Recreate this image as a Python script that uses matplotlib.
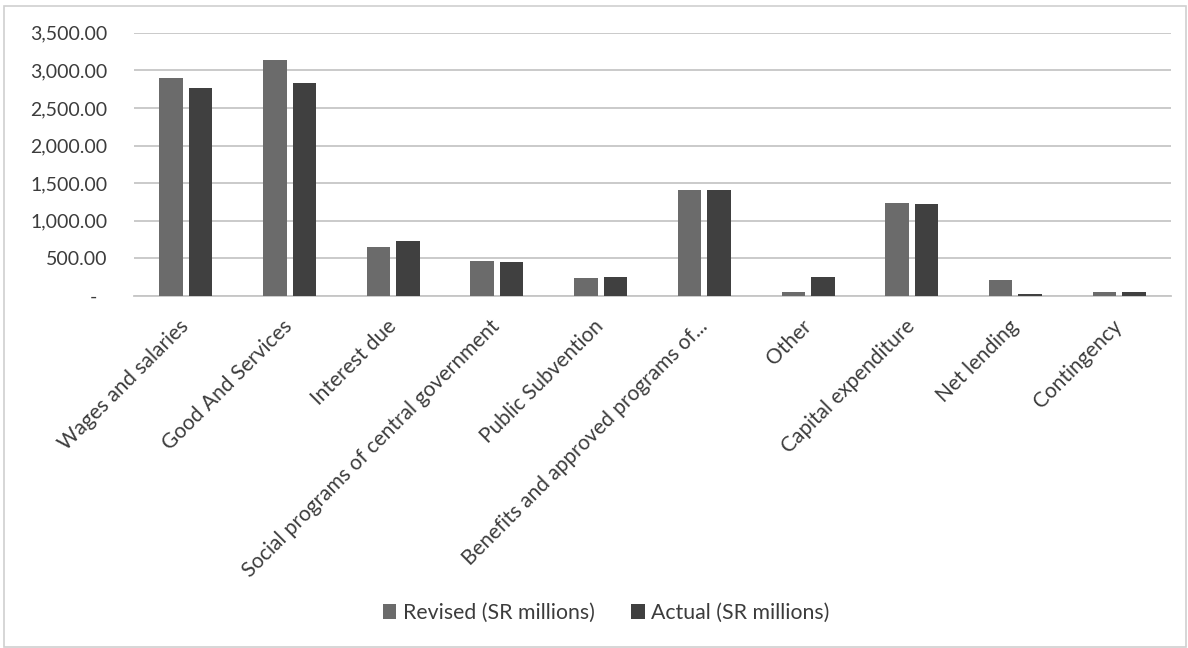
import matplotlib.pyplot as plt
import numpy as np
from matplotlib.patches import Rectangle
from matplotlib.ticker import FuncFormatter

plt.rcParams['font.family'] = ['Lato', 'DejaVu Sans']

categories = ['Wages and salaries', 'Good And Services', 'Interest due',
              'Social programs of central government', 'Public Subvention',
              'Benefits and approved programs of...', 'Other',
              'Capital expenditure', 'Net lending', 'Contingency']
revised = [2895, 3135, 652, 466, 245, 1412, 53, 1233, 213, 53]
actual = [2772, 2834, 733, 450, 258, 1412, 257, 1219, 27, 53]
series_names = ['Revised (SR millions)', 'Actual (SR millions)']
colors = ['#6b6b6b', '#404040']

def fmt(v, pos):
    if v == 0:
        return '-  '
    return '{:,.2f}'.format(v)

W, H = 1188, 648
fig = plt.figure(figsize=(W / 100, H / 100), dpi=100)
ax = fig.add_axes([134 / W, 1 - 296 / H, 1037 / W, 263.2 / H])

x = np.arange(len(categories))
w = 0.227
off = 0.142
ax.bar(x - off, revised, w, color=colors[0], label=series_names[0], zorder=3)
ax.bar(x + off, actual, w, color=colors[1], label=series_names[1], zorder=3)

ax.set_xlim(-0.5, len(categories) - 0.5)
ax.set_ylim(0, 3500)
ax.set_yticks(np.arange(0, 3501, 500))
ax.yaxis.set_major_formatter(FuncFormatter(fmt))
ax.grid(axis='y', color='#c6c6c6', linewidth=1.3, zorder=0)
for s in ['top', 'right', 'left']:
    ax.spines[s].set_visible(False)
ax.spines['bottom'].set_color('#c6c6c6')
ax.spines['bottom'].set_linewidth(1.3)

ax.set_xticks(x)
ax.set_xticklabels(categories, rotation=45, ha='right', va='center',
                   rotation_mode='anchor', fontsize=15, color='#3c3c3c')
ax.tick_params(axis='x', length=0, pad=19.5)
ax.tick_params(axis='y', length=0, pad=19, labelsize=14, labelcolor='#3c3c3c')

fig.legend(loc='center', bbox_to_anchor=(606 / W, 1 - 613 / H), ncol=2,
           frameon=False, fontsize=15.3, handlelength=0.65, handleheight=0.65,
           handletextpad=0.3, columnspacing=1.7, labelcolor='#3c3c3c')

fig.patches.append(Rectangle((4 / W, 1 / H), 1182 / W, 641 / H,
                             transform=fig.transFigure, fill=False,
                             edgecolor='#d0d0d0', linewidth=1.2))

fig.savefig('out.png', dpi=100)
